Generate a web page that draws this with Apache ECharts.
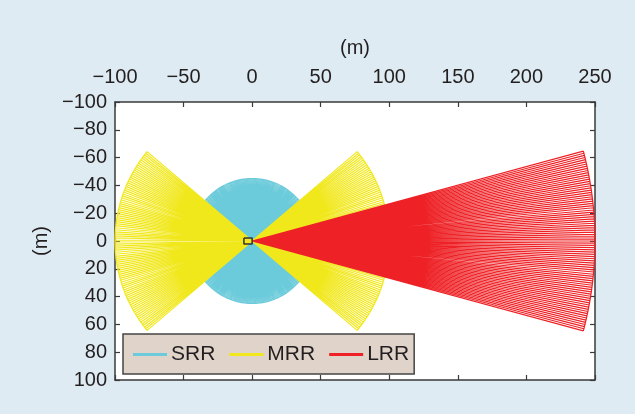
<!DOCTYPE html>
<html><head><meta charset="utf-8">
<script src="https://cdn.jsdelivr.net/npm/echarts@6/dist/echarts.min.js"></script>
<style>html,body{margin:0;padding:0;background:#deebf2}#c{width:635px;height:414px}</style>
</head><body><div id="c"></div>
<script>
// ---- data ----
const sensorNames = ['SRR', 'MRR', 'LRR'];
const sensorColors = ['#6ccbdb', '#f1e81c', '#ee2226'];
const sensorLineWidth = [1.05, 1.2, 1.2];
// one entry per coverage fan: sensor index, boresight (deg, 0 = +x), half field of view (deg), range (m), drawn rays
const fanSensor = [0, 0, 1, 1, 2];
const fanAzimuth = [-90, 90, 0, 180, 0];
const fanHalfFov = [60, 60, 40, 40, 15];
const fanRange = [45, 45, 100, 100, 250];
const fanRays = [110, 110, 95, 95, 82];
// vehicle outline (m)
const carX = [-6, 0, 0, -6, -6];
const carY = [-2.2, -2.2, 2.2, 2.2, -2.2];
// axis ticks
const xTicks = [-100, -50, 0, 50, 100, 150, 200, 250];
const yTicks = [-100, -80, -60, -40, -20, 0, 20, 40, 60, 80, 100];

// ---- build series ----
function fanPoints(k) {
  const pts = [];
  const n = fanRays[k], r = fanRange[k];
  const a0 = fanAzimuth[k] - fanHalfFov[k], a1 = fanAzimuth[k] + fanHalfFov[k];
  for (let i = 0; i <= n; i++) {
    const a = (a0 + (a1 - a0) * i / n) * Math.PI / 180;
    pts.push([0, 0], [r * Math.cos(a), r * Math.sin(a)], [NaN, NaN]);
  }
  for (let i = 0; i <= n; i++) {
    const a = (a0 + (a1 - a0) * i / n) * Math.PI / 180;
    pts.push([r * Math.cos(a), r * Math.sin(a)]);
  }
  pts.push([NaN, NaN]);
  return pts;
}
const series = sensorNames.map((name, s) => {
  let data = [];
  fanSensor.forEach((fs, k) => { if (fs === s) data = data.concat(fanPoints(k)); });
  return {
    name, type: 'line', data, showSymbol: false, symbol: 'none',
    connectNulls: false, animation: false, silent: true, z: 2 + s,
    lineStyle: { color: sensorColors[s], width: sensorLineWidth[s] },
    itemStyle: { color: sensorColors[s] }
  };
});
series.push({
  name: 'car', type: 'line', data: carX.map((x, i) => [x, carY[i]]),
  showSymbol: false, symbol: 'none', animation: false, silent: true, z: 10,
  lineStyle: { color: '#333', width: 1.5 }
});

const FONT = "'Liberation Sans', Arial, Helvetica, sans-serif";
const TXT = '#231f20';
const AXC = '#3a3a3a';
const minus = v => String(v).replace('-', '\u2212');
const baseAxis = {
  type: 'value', splitLine: { show: false },
  axisLine: { show: true, onZero: false, lineStyle: { color: AXC, width: 1.5 } },
  axisTick: { show: true, inside: true, length: 5, lineStyle: { color: AXC, width: 1.2 } }
};

const chart = echarts.init(document.getElementById('c'), null, { renderer: 'canvas' });
chart.setOption({
  backgroundColor: '#deebf2',
  animation: false,
  grid: { left: 115, top: 102, right: 40, bottom: 34, show: true, backgroundColor: '#ffffff', borderWidth: 0 },
  xAxis: [
    Object.assign({}, baseAxis, {
      position: 'top', min: xTicks[0], max: xTicks[xTicks.length - 1], interval: xTicks[1] - xTicks[0],
      name: '(m)', nameLocation: 'middle', nameGap: 44,
      nameTextStyle: { fontFamily: FONT, fontSize: 20, color: TXT },
      axisLabel: { fontFamily: FONT, fontSize: 20, color: TXT, margin: 15, formatter: minus }
    }),
    Object.assign({}, baseAxis, {
      position: 'bottom', min: xTicks[0], max: xTicks[xTicks.length - 1], interval: xTicks[1] - xTicks[0],
      axisLabel: { show: false }
    })
  ],
  yAxis: [
    Object.assign({}, baseAxis, {
      position: 'left', inverse: true, min: yTicks[0], max: yTicks[yTicks.length - 1], interval: yTicks[1] - yTicks[0],
      name: '(m)', nameLocation: 'middle', nameGap: 60, nameRotate: 90,
      nameTextStyle: { fontFamily: FONT, fontSize: 20, color: TXT },
      axisLabel: { fontFamily: FONT, fontSize: 20, color: TXT, margin: 8, formatter: minus }
    }),
    Object.assign({}, baseAxis, {
      position: 'right', inverse: true, min: yTicks[0], max: yTicks[yTicks.length - 1], interval: yTicks[1] - yTicks[0],
      axisLabel: { show: false }
    })
  ],
  legend: {
    data: sensorNames.map(n => ({ name: n, icon: 'rect' })),
    left: 123, top: 334, orient: 'horizontal',
    itemWidth: 34, itemHeight: 3, itemGap: 14,
    padding: [10, 5, 9, 10],
    backgroundColor: '#e0d3ca', borderColor: '#444', borderWidth: 1.5,
    textStyle: { fontFamily: FONT, fontSize: 21, color: TXT, padding: [0, 0, 0, -1] },
    selectedMode: false
  },
  series
});
</script></body></html>
